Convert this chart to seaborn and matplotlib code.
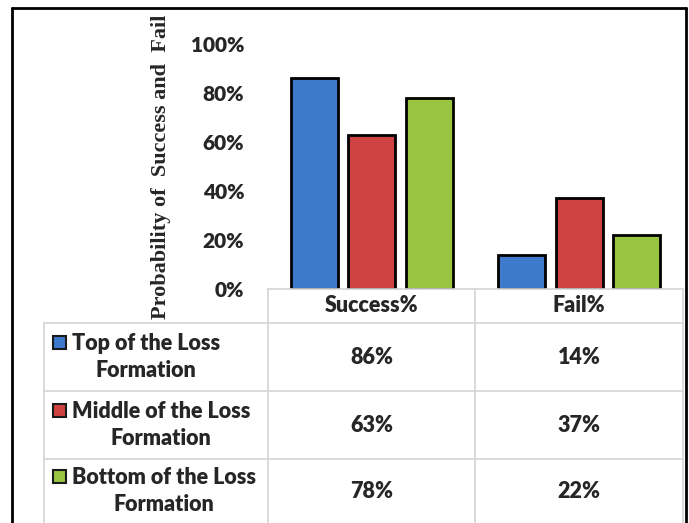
import matplotlib
matplotlib.use("Agg")
import matplotlib.pyplot as plt
import seaborn as sns
import pandas as pd
from matplotlib.lines import Line2D
from matplotlib.patches import Rectangle

categories = ["Success%", "Fail%"]
series = ["Top of the Loss\nFormation", "Middle of the Loss\nFormation", "Bottom of the Loss\nFormation"]
top_vals = [0.86, 0.14]
middle_vals = [0.63, 0.37]
bottom_vals = [0.78, 0.22]
yticks = [0, 0.2, 0.4, 0.6, 0.8, 1.0]
ytick_labels = ["0%", "20%", "40%", "60%", "80%", "100%"]
colors = ["#3E7ACB", "#CF4242", "#98C43F"]

rows = []
for s, vals in zip(series, [top_vals, middle_vals, bottom_vals]):
    for c, v in zip(categories, vals):
        rows.append({"category": c, "series": s, "value": v})
df = pd.DataFrame(rows)

sns.set_theme(style="white")
W, H = 689, 523
fig = plt.figure(figsize=(W / 100, H / 100), dpi=100)

def fx(x):
    return x / W

def fy(y):
    return 1 - y / H

FONT = "Lato"
WEIGHT = "heavy"

# plot area
ax_left, ax_right, ax_top, ax_bottom = 268, 683, 44, 289
ax = fig.add_axes([fx(ax_left), fy(ax_bottom), fx(ax_right - ax_left), (ax_bottom - ax_top) / H])
sns.barplot(data=df, x="category", y="value", hue="series", palette=colors,
            saturation=1, width=0.83, gap=0.18, edgecolor="black", linewidth=2,
            ax=ax, legend=False)
ax.set_ylim(0, 1.0)
ax.set_xlim(-0.5, 1.5)
ax.set_yticks(yticks)
ax.set_yticklabels(ytick_labels, fontfamily=FONT, fontweight=WEIGHT, fontsize=15)
ax.set_xticks([])
ax.set_xlabel("")
ax.set_ylabel("")
for sp in ax.spines.values():
    sp.set_visible(False)
ax.tick_params(axis="y", length=0, pad=17)
ax.patch.set_alpha(0)

fig.text(fx(161), fy(167), "Probability of  Success and  Fail", rotation=90,
         ha="center", va="center", fontfamily="Liberation Serif", fontweight="bold",
         fontsize=16)
# table area covers the label below the header row
fig.add_artist(Rectangle((fx(44), 0), fx(683 - 44), fy(323), facecolor="white",
                         edgecolor="none", zorder=1))

# table
grid = "#d4d4d4"
col_x = [44, 268, 475, 683]
row_y = [289, 323, 391, 459, 523]
lw = 1.2
def hline(y, x0, x1, color=grid, w=lw):
    fig.add_artist(Line2D([fx(x0), fx(x1)], [fy(y), fy(y)], color=color, lw=w, zorder=2))
def vline(x, y0, y1, color=grid, w=lw):
    fig.add_artist(Line2D([fx(x), fx(x)], [fy(y0), fy(y1)], color=color, lw=w, zorder=2))

hline(289, 268, 683)
for y in row_y[1:4]:
    hline(y, 44, 683)
vline(268, 289, 523)
vline(475, 289, 523)
vline(44, 323, 523)
vline(683, 289, 523)

font_kw = dict(fontfamily=FONT, fontweight=WEIGHT, fontsize=15.5, zorder=3)
for i, c in enumerate(categories):
    cx = (col_x[i + 1] + col_x[i + 2]) / 2
    fig.text(fx(cx), fy(306), c, ha="center", va="center", **font_kw)

all_vals = [top_vals, middle_vals, bottom_vals]
for r, (s, vals, col) in enumerate(zip(series, all_vals, colors)):
    cy = (row_y[r + 1] + row_y[r + 2]) / 2
    fig.text(fx(72), fy(cy), s, ha="left", va="center", multialignment="center",
             linespacing=1.35, **font_kw)
    fig.add_artist(Rectangle((fx(53), fy(cy - 15 + 7)), 13 / W, 13 / H,
                             facecolor=col, edgecolor="#1a1a1a", lw=1.5, zorder=3))
    for j, v in enumerate(vals):
        cx = (col_x[j + 1] + col_x[j + 2]) / 2
        fig.text(fx(cx), fy(cy), f"{round(v * 100)}%", ha="center", va="center", **font_kw)

# outer border
fig.add_artist(Line2D([fx(12), fx(12)], [fy(8), 0], color="black", lw=2, zorder=4))
fig.add_artist(Line2D([fx(12), fx(686)], [fy(8), fy(8)], color="black", lw=2, zorder=4))
fig.add_artist(Line2D([fx(686), fx(686)], [fy(8), 0], color="black", lw=2, zorder=4))

fig.savefig("out.png", dpi=100)
